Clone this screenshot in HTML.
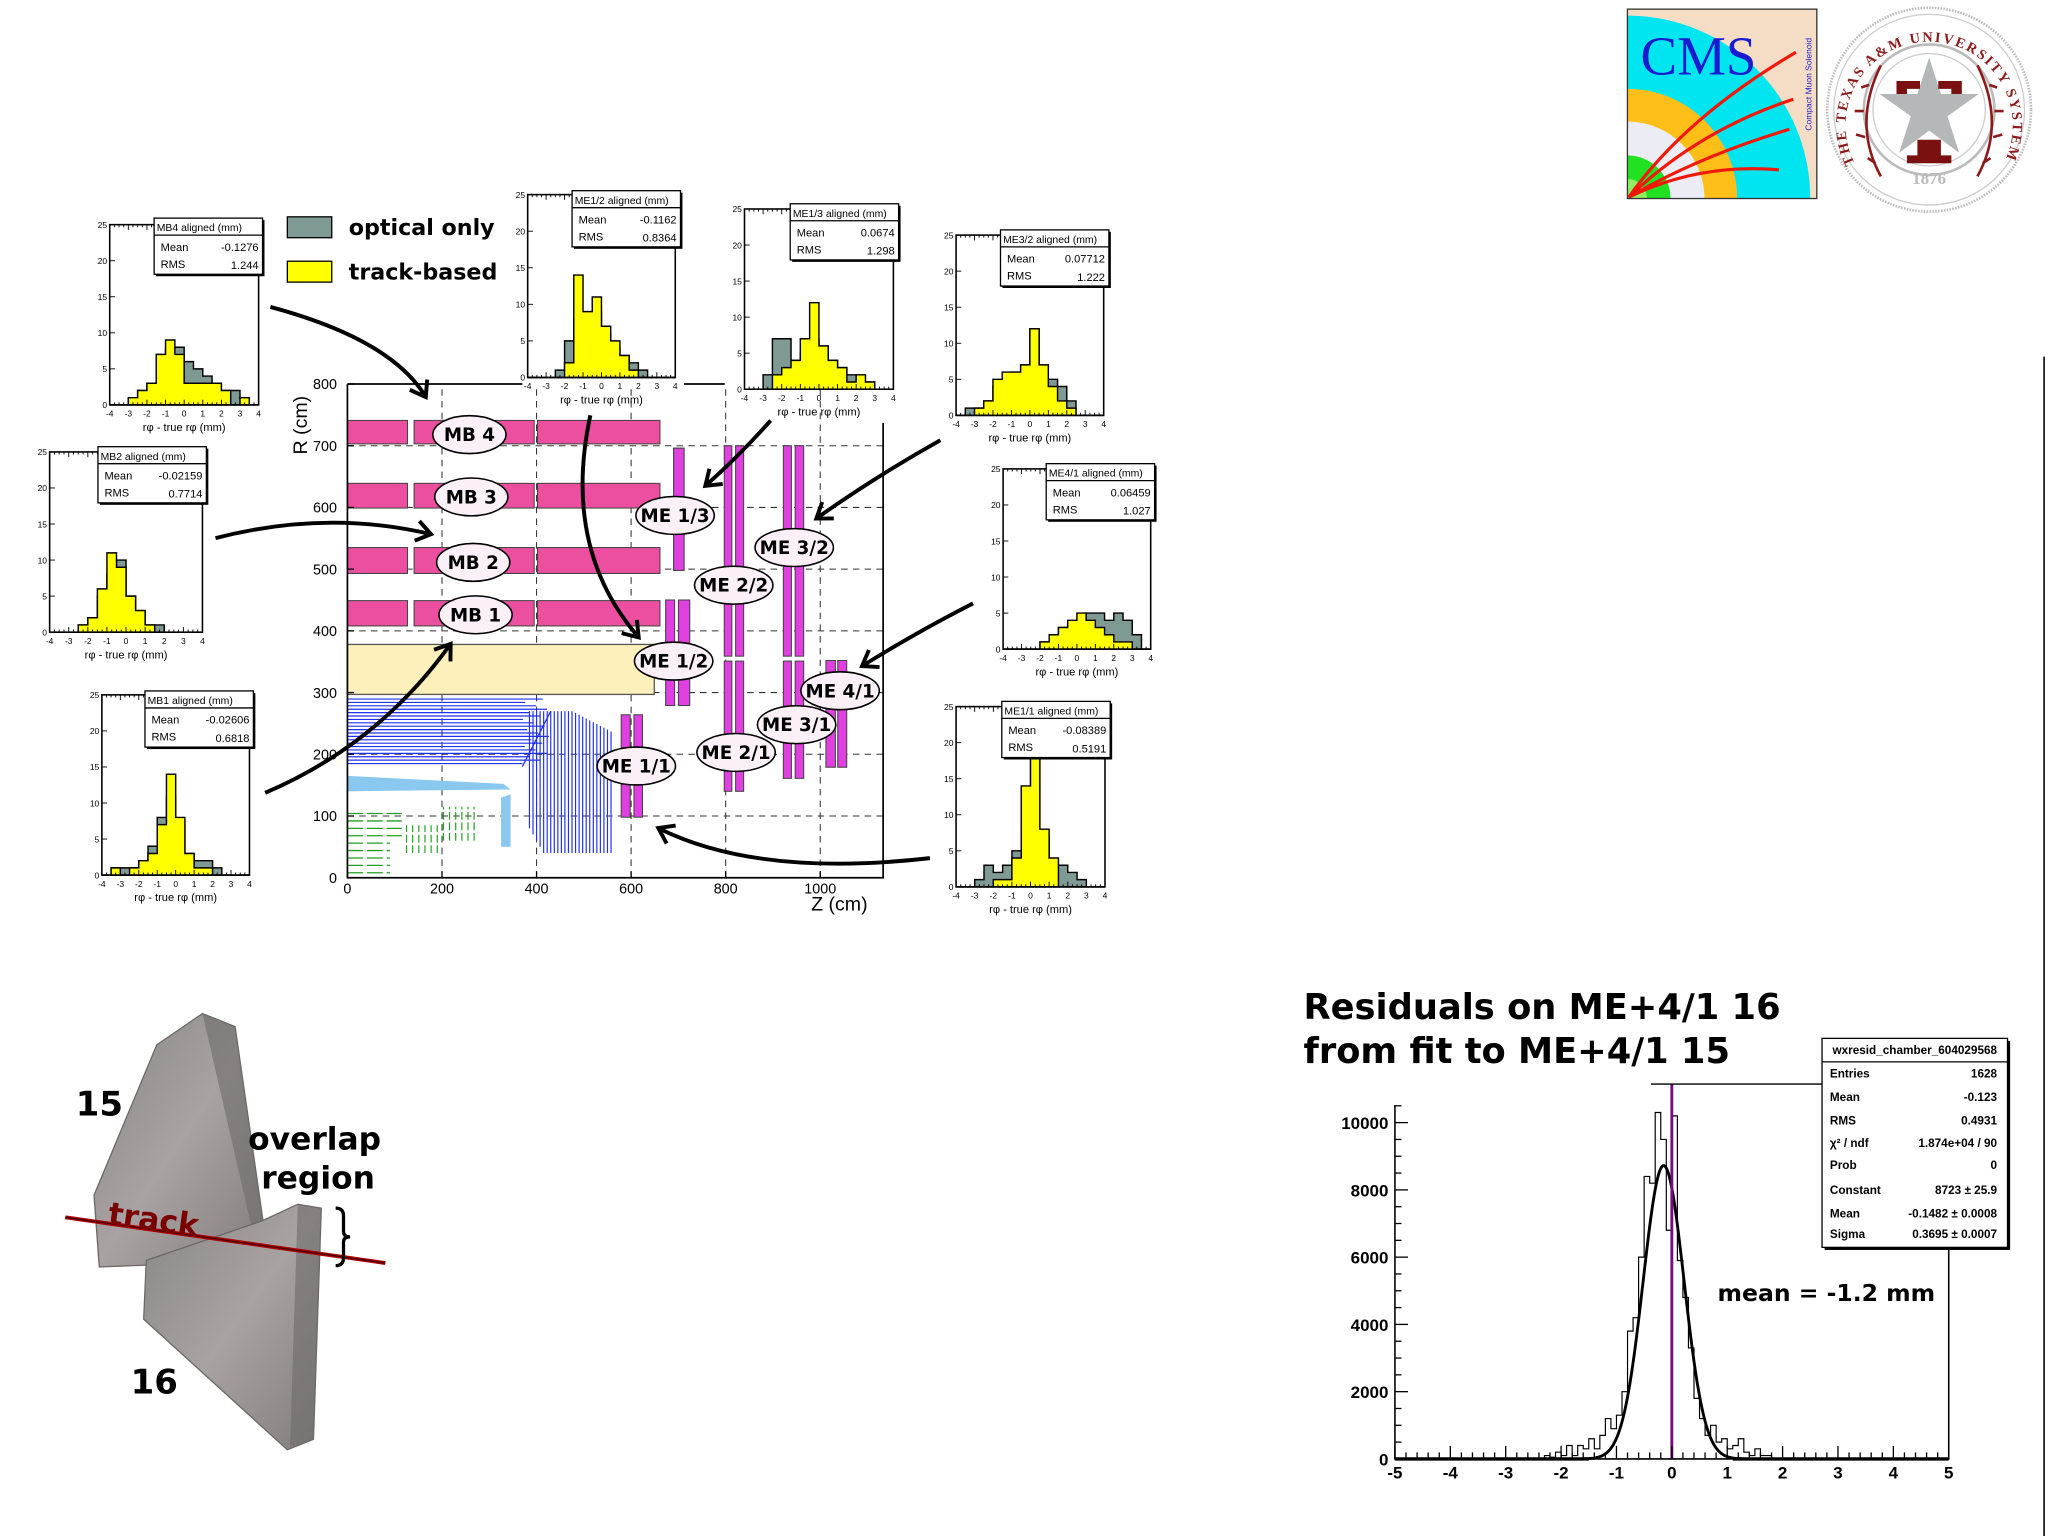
<!DOCTYPE html>
<html><head><meta charset="utf-8"><style>
html,body{margin:0;padding:0;background:#fff;}
svg{display:block;}
text{font-family:"Liberation Sans",sans-serif;}
.b{font-family:"DejaVu Sans","Liberation Sans",sans-serif;font-weight:bold;}
.serif{font-family:"Liberation Serif",serif;}
</style></head><body>
<svg id="root" xmlns="http://www.w3.org/2000/svg" width="2048" height="1536" viewBox="0 0 1568 1176">
<defs>
<linearGradient id="gch" x1="0" y1="0" x2="1" y2="1"><stop offset="0" stop-color="#8a8585"/><stop offset="0.5" stop-color="#a8a2a2"/><stop offset="1" stop-color="#827c7c"/></linearGradient>
</defs>
<g id="rz"></g>
<g id="hists"></g>
<g id="arrows"></g>
<g id="big"></g>

<g>
<rect x="220" y="166" width="34" height="16" fill="#7f9a94" stroke="#000"/>
<text x="267" y="180" font-size="17" class="b">optical only</text>
<rect x="220" y="200" width="34" height="16" fill="#ffff00" stroke="#000"/>
<text x="267" y="214" font-size="17" class="b">track-based</text>
</g>

<g>
<clipPath id="cmsclip"><rect x="1246" y="7" width="145" height="145"/></clipPath>
<g clip-path="url(#cmsclip)">
<rect x="1246" y="7" width="145" height="145" fill="#f5dcc4"/>
<circle cx="1246" cy="152" r="140" fill="#00e5f0"/>
<circle cx="1246" cy="152" r="84" fill="#ffbe18"/>
<circle cx="1246" cy="152" r="59" fill="#ececf4"/>
<circle cx="1246" cy="152" r="33" fill="#22e022"/>
<circle cx="1246" cy="152" r="15" fill="#90f060"/>
<g fill="none" stroke="#f01808" stroke-width="2.4">
<path d="M1247,151 Q1290,90 1375,40"/>
<path d="M1247,151 Q1300,100 1373,76"/>
<path d="M1247,151 Q1300,120 1370,99"/>
<path d="M1247,151 Q1300,125 1362,130"/>
</g>
</g>
<rect x="1246" y="7" width="145" height="145" fill="none" stroke="#333" stroke-width="1"/>
<text x="1256" y="57" font-size="42" fill="#1a1ad0" class="serif">CMS</text>
<text transform="translate(1387,100) rotate(-90)" font-size="6.5" fill="#1a1ad0">Compact Muon Solenoid</text>
</g>

<g>
<circle cx="1477" cy="84" r="78" fill="#fff" stroke="#bbb" stroke-width="2" stroke-dasharray="1.2 1"/>
<circle cx="1477" cy="84" r="73" fill="none" stroke="#ccc" stroke-width="1"/>
<circle cx="1477" cy="84" r="50" fill="none" stroke="#bbb" stroke-width="2"/>
<circle cx="1477" cy="84" r="43" fill="none" stroke="#ccc" stroke-width="1"/>
<path id="sealarc" d="M1420,125 A64,64 0 1,1 1534,125" fill="none"/>
<text font-size="11" fill="#8b1a1a" class="serif" font-weight="bold" letter-spacing="1.5"><textPath href="#sealarc">THE TEXAS A&amp;M UNIVERSITY SYSTEM</textPath></text>
<g fill="none" stroke="#8b1a1a" stroke-width="2">
<path d="M1440,135 Q1418,95 1440,50"/><path d="M1514,135 Q1536,95 1514,50"/>
<path d="M1436,125 l-6,-4 M1428,105 l-7,-2 M1427,85 l-7,0 M1431,65 l-6,2 M1518,125 l6,-4 M1526,105 l7,-2 M1527,85 l7,0 M1523,65 l6,2"/>
</g>
<polygon points="1477,44 1486,72 1515,72 1491,89 1500,117 1477,100 1454,117 1463,89 1439,72 1468,72" fill="#b4b8b8"/>
<path d="M1452,62 h18 v6 h-10 v4 h-8 z M1502,62 h-18 v6 h10 v4 h8 z M1468,107 h18 v12 h8 v6 h-34 v-6 h8 z" fill="#7a1010"/>
<text x="1477" y="141" font-size="13" fill="#bbb" text-anchor="middle" class="serif" font-weight="bold">1876</text>
</g>

<g>
<polygon points="120,800 155,776 180,786 205,960 178,966 76,970 72,915" fill="url(#gch)" stroke="#6d6868" stroke-width="1"/>
<polygon points="155,776 180,786 205,960 198,963" fill="#6f6a6a" opacity="0.6"/>
<polygon points="200,935 228,922 246,925 240,1102 220,1110 110,1010 112,965" fill="url(#gch)" stroke="#6d6868" stroke-width="1"/>
<polygon points="228,922 246,925 240,1102 222,1108" fill="#6f6a6a" opacity="0.6"/>
<line x1="50" y1="932" x2="295" y2="967" stroke="#b00000" stroke-width="3"/>
<line x1="50" y1="932" x2="295" y2="967" stroke="#400" stroke-width="1"/>
<text x="82" y="937" font-size="24" class="b" fill="#7a0000" transform="rotate(8,82,937)">track</text>
<text x="58" y="854" font-size="26" class="b">15</text>
<text x="100" y="1067" font-size="26" class="b">16</text>
<text x="190" y="880" font-size="24" class="b">overlap</text>
<text x="200" y="910" font-size="24" class="b">region</text>
<path d="M257,925 q6,0 6,6 v12 q0,4 5,4 q-5,0 -5,4 v12 q0,6 -6,6" fill="none" stroke="#000" stroke-width="2.5"/>
</g>
<line x1="1565" y1="273" x2="1565" y2="1176" stroke="#000" stroke-width="1.2"/>
</svg>
<script>
// ===== data: small residual histograms (bins of 0.5 mm from -4 to 4) =====
const hBinEdges = [-4,-3.5,-3,-2.5,-2,-1.5,-1,-0.5,0,0.5,1,1.5,2,2.5,3,3.5,4];
const hTickLabels = ["-4","-3","-2","-1","0","1","2","3","4"];
const hYTicks = [0,5,10,15,20,25];
const mb4Gray   = [0,0,1,2,3,7,8,8,6,5,4,3,2,2,1,0];
const mb4Yellow = [0,0,1,2,3,7,9,7,3,3,3,3,2,0,1,0];
const mb2Gray   = [0,0,0,1,2,5,8,10,5,3,1,1,0,0,0,0];
const mb2Yellow = [0,0,0,1,2,6,11,9,5,3,1,0,0,0,0,0];
const mb1Gray   = [0,1,1,1,2,4,8,11,7,3,2,2,1,0,0,0];
const mb1Yellow = [0,1,0,1,2,3,7,14,8,3,1,1,0,0,0,0];
const me12Gray   = [0,0,0,1,5,8,7,9,6,4,3,2,1,0,0,0];
const me12Yellow = [0,0,0,0,2,14,9,11,7,5,3,1,0,0,0,0];
const me13Gray   = [0,0,2,7,7,4,5,7,6,4,3,2,1,1,0,0];
const me13Yellow = [0,0,0,2,3,4,7,12,6,4,3,1,2,1,0,0];
const me32Gray   = [0,1,1,2,4,5,6,7,12,6,5,4,2,0,0,0];
const me32Yellow = [0,0,1,2,5,6,6,7,12,7,4,2,1,0,0,0];
const me41Gray   = [0,0,0,0,1,2,3,3,4,5,5,4,5,4,2,0];
const me41Yellow = [0,0,0,0,1,2,3,4,5,4,3,2,1,1,0,0];
const me11Gray   = [0,0,1,3,2,3,5,12,20,7,3,3,2,1,0,0];
const me11Yellow = [0,0,0,0,1,1,4,14,22,8,4,0,0,0,0,0];
const hTitles = ["MB4 aligned (mm)","MB2 aligned (mm)","MB1 aligned (mm)","ME1/2 aligned (mm)","ME1/3 aligned (mm)","ME3/2 aligned (mm)","ME4/1 aligned (mm)","ME1/1 aligned (mm)"];
const hMeans = ["-0.1276","-0.02159","-0.02606","-0.1162","0.0674","0.07712","0.06459","-0.08389"];
const hRms = ["1.244","0.7714","0.6818","0.8364","1.298","1.222","1.027","0.5191"];

// ===== data: big ME+4/1 residual histogram (bins of 0.1 mm) =====
const bigBinStart = [-2.3,-2.2,-2.1,-2.0,-1.9,-1.8,-1.7,-1.6,-1.5,-1.4,-1.3,-1.2,-1.1,-1.0,-0.9,-0.8,-0.7,-0.6,-0.5,-0.4,-0.3,-0.2,-0.1,0.0,0.1,0.2,0.3,0.4,0.5,0.6,0.7,0.8,0.9,1.0,1.1,1.2,1.3,1.4,1.5,1.6,1.7];
const bigCounts = [100,50,200,100,400,100,400,300,600,300,700,1200,900,1300,2000,3800,4200,6000,8400,8200,10300,9500,6800,10200,5900,4800,3300,1800,1200,700,1000,500,600,300,400,600,200,100,300,100,100];
const bigXTicks = [-5,-4,-3,-2,-1,0,1,2,3,4,5];
const bigYTicks = [0,2000,4000,6000,8000,10000];
const fitConstant = 8723, fitMean = -0.1482, fitSigma = 0.3695;
const statLabels = ["Entries","Mean","RMS","\u03C7\u00B2 / ndf","Prob","Constant","Mean","Sigma"];
const statValues = ["1628","-0.123","0.4931","1.874e+04 / 90","0","8723 \u00B1 25.9","-0.1482 \u00B1 0.0008","0.3695 \u00B1 0.0007"];

// ===== R-Z diagram data (z, r in cm) =====
const rzRTicks = [0,100,200,300,400,500,600,700,800];
const rzZTicks = [0,200,400,600,800,1000];
const mbNames = ["MB 4","MB 3","MB 2","MB 1"];
const mbRLow = [703,599,493,408];
const mbRHigh = [741,639,535,449];
const mbSegZ0 = [0,141,402];
const mbSegZ1 = [127,395,661];
const mbLabelZ = [258,262,266,271];
const mbLabelR = [718,617,511,426];
const meNames = ["ME 1/3","ME 1/2","ME 1/1","ME 2/2","ME 2/1","ME 3/2","ME 3/1","ME 4/1"];
const meZa0 = [690,673,579,797,797,922,922,1012];
const meZa1 = [712,692,598,813,813,939,939,1032];
const meZb0 = [690,700,606,821,821,947,947,1037];
const meZb1 = [712,724,624,838,838,965,965,1056];
const meR0 = [498,279,98,359,140,359,161,179];
const meR1 = [696,450,264,700,351,700,351,352];
const meLabelZ = [693,690,611,817,822,945,950,1042];
const meLabelR = [587,351,181,474,203,535,248,303];

const NS="http://www.w3.org/2000/svg";
function mk(parent, tag, attrs, txt){const e=document.createElementNS(NS,tag);for(const k in attrs)e.setAttribute(k,attrs[k]);if(txt!==undefined)e.textContent=txt;parent.appendChild(e);return e;}

// ---------- R-Z diagram ----------
(function(){
const g=document.getElementById('rz');
const X=z=>266+z*0.362, Y=r=>672-r*0.4725;
for(const z of [200,400,600,800,1000]){const l=mk(g,'line',{x1:X(z),y1:Y(0),x2:X(z),y2:Y(800),stroke:'#333','stroke-width':0.8,'stroke-dasharray':'5 4'});

}
for(const r of [100,200,300,400,500,600,700]){const l=mk(g,'line',{x1:X(0),y1:Y(r),x2:X(1133),y2:Y(r),stroke:'#333','stroke-width':0.8,'stroke-dasharray':'5 4'});

}
mk(g,'polygon',{points:`${X(0)},${Y(165)} ${X(330)},${Y(152)} ${X(345)},${Y(143)} ${X(0)},${Y(140)}`,fill:'#8ac8f0'});
mk(g,'polygon',{points:`${X(325)},${Y(130)} ${X(345)},${Y(135)} ${X(345)},${Y(50)} ${X(325)},${Y(50)}`,fill:'#8ac8f0'});
for(let i=0;i<20;i++){const r=185+i*5.5;const zl=370+((i*37)%60);mk(g,'line',{x1:X(0),y1:Y(r),x2:X(zl),y2:Y(r),stroke:'#2030f0','stroke-width':0.9});}
for(let i=0;i<24;i++){const z=385+i*7.5;const rt=270-(i>12?(i-12)*3:0);mk(g,'line',{x1:X(z),y1:Y(Math.max(40,40+ (i<4?(4-i)*10:0) )),x2:X(z),y2:Y(rt),stroke:'#2030f0','stroke-width':0.9});}
mk(g,'line',{x1:X(370),y1:Y(180),x2:X(430),y2:Y(270),stroke:'#2030f0','stroke-width':1});
for(let i=0;i<9;i++){const r=8+i*12;mk(g,'line',{x1:X(0),y1:Y(r),x2:X(i<5?90:115),y2:Y(r),stroke:'#20a020','stroke-width':1,'stroke-dasharray':'12 3'});}
for(let i=0;i<12;i++){const z=125+i*13;mk(g,'line',{x1:X(z),y1:Y(i<6?40:60),x2:X(z),y2:Y(i<6?85:115),stroke:'#20a020','stroke-width':0.9,'stroke-dasharray':'6 2'});}
const s=mk(g,'rect',{x:X(0),y:Y(378),width:X(649)-X(0),height:Y(297)-Y(378),fill:'#fdf0bb',stroke:'#555','stroke-width':1});


for(let i=0;i<mbNames.length;i++){for(let j=0;j<mbSegZ0.length;j++){const r=mk(g,'rect',{x:X(mbSegZ0[j]),y:Y(mbRHigh[i]),width:X(mbSegZ1[j])-X(mbSegZ0[j]),height:Y(mbRLow[i])-Y(mbRHigh[i]),fill:'#ec4fa0',stroke:'#444','stroke-width':0.8});

}}
for(let i=0;i<meNames.length;i++){for(const [a,b] of [[meZa0[i],meZa1[i]],[meZb0[i],meZb1[i]]]){const r=mk(g,'rect',{x:X(a),y:Y(meR1[i]),width:X(b)-X(a),height:Y(meR0[i])-Y(meR1[i]),fill:'#e040e0',stroke:'#444','stroke-width':0.8});

}}
function lab(z,r,t,rx){const e=mk(g,'ellipse',{cx:X(z),cy:Y(r),rx:rx,ry:14.5,fill:'#fcf0f8',stroke:'#000','stroke-width':1.2});


const t2=mk(g,'text',{x:X(z),y:Y(r)+5,'font-size':14,'text-anchor':'middle',class:'b'},t);

}
for(let i=0;i<mbNames.length;i++)lab(mbLabelZ[i],mbLabelR[i],mbNames[i],28);
for(let i=0;i<meNames.length;i++)lab(meLabelZ[i],meLabelR[i],meNames[i],30);
const fr=mk(g,'path',{d:`M${X(0)},${Y(800)} V${Y(0)} H${X(1133)} V${Y(737)} M${X(0)},${Y(800)} H${X(370)} M${X(712)},${Y(800)} H${X(798)}`,fill:'none',stroke:'#000','stroke-width':1.3});


for(const r of rzRTicks){mk(g,'line',{x1:X(0),y1:Y(r),x2:X(0)+5,y2:Y(r),stroke:'#000'});
const t=mk(g,'text',{x:258,y:Y(r)+4,'font-size':11,'text-anchor':'end'},String(r));

}
for(const z of rzZTicks){mk(g,'line',{x1:X(z),y1:Y(0),x2:X(z),y2:Y(0)-5,stroke:'#000'});
const t=mk(g,'text',{x:X(z),y:684,'font-size':11,'text-anchor':'middle'},String(z));

}
const ry=mk(g,'text',{x:0,y:0,'font-size':15,transform:'translate(235,348) rotate(-90)'},'R (cm)');


const zx=mk(g,'text',{x:621,y:697,'font-size':15},'Z (cm)');


})();

// ---------- small histograms ----------
const hLayout=[
 {x0:84,x1:198,yt:172,yb:310,sx:118,sy:167},
 {x0:38,x1:155,yt:346,yb:484,sx:75,sy:342},
 {x0:78,x1:191,yt:532,yb:670,sx:111,sy:529},
 {x0:404,x1:517,yt:149,yb:289,sx:438,sy:146},
 {x0:570,x1:684,yt:160,yb:298,sx:605,sy:156},
 {x0:732,x1:845,yt:180,yb:318,sx:766,sy:176},
 {x0:768,x1:881,yt:359,yb:497,sx:801,sy:355},
 {x0:732,x1:846,yt:541,yb:679,sx:767,sy:537}];
const hGray=[mb4Gray,mb2Gray,mb1Gray,me12Gray,me13Gray,me32Gray,me41Gray,me11Gray];
const hYellow=[mb4Yellow,mb2Yellow,mb1Yellow,me12Yellow,me13Yellow,me32Yellow,me41Yellow,me11Yellow];
(function(){
const root=document.getElementById('hists');
for(let k=0;k<hLayout.length;k++){
 const L=hLayout[k];
 const g=mk(root,'g',{});
 
 
 const X=v=>L.x0+(v+4)/8*(L.x1-L.x0), Y=c=>L.yb-c/25*(L.yb-L.yt);
 function step(arr,fill,name){let d=`M${X(hBinEdges[0])},${Y(0)}`;for(let i=0;i<arr.length;i++){d+=` V${Y(arr[i])} H${X(hBinEdges[i+1])}`;}d+=` V${Y(0)} Z`;
  const p=mk(g,'path',{d:d,fill:fill,stroke:'#000','stroke-width':1.1});
  
  }
 step(hGray[k],'#7f9a94','optical-only-series');
 step(hYellow[k],'#ffff00','track-based-series');
 const fr=mk(g,'rect',{x:L.x0,y:L.yt,width:L.x1-L.x0,height:L.yb-L.yt,fill:'none',stroke:'#000','stroke-width':1.2});
 
 
 for(let v=-4;v<=4;v+=0.25){const maj=Number.isInteger(v);mk(g,'line',{x1:X(v),y1:L.yb,x2:X(v),y2:L.yb-(maj?4:2),stroke:'#000','stroke-width':0.7});mk(g,'line',{x1:X(v),y1:L.yt,x2:X(v),y2:L.yt+(maj?4:2),stroke:'#000','stroke-width':0.7});}
 for(const c of hYTicks){mk(g,'line',{x1:L.x0,y1:Y(c),x2:L.x0+4,y2:Y(c),stroke:'#000','stroke-width':0.7});
  const t=mk(g,'text',{x:L.x0-2,y:Y(c)+2.5,'font-size':6.5,'text-anchor':'end'},String(c));
  
  }
 for(let i=0;i<hTickLabels.length;i++){const t=mk(g,'text',{x:X(-4+i),y:L.yb+9,'font-size':6.5,'text-anchor':'middle'},hTickLabels[i]);
  
  }
 const at=mk(g,'text',{x:(L.x0+L.x1)/2,y:L.yb+20,'font-size':8.5,'text-anchor':'middle'},'r\u03C6 - true r\u03C6 (mm)');
 
 
 const sb=mk(g,'g',{});
 
 
 mk(sb,'rect',{x:L.sx+1.5,y:L.sy+1.5,width:83,height:43,fill:'#000'});
 mk(sb,'rect',{x:L.sx,y:L.sy,width:83,height:43,fill:'#fff',stroke:'#000','stroke-width':1});
 mk(sb,'line',{x1:L.sx,y1:L.sy+13,x2:L.sx+83,y2:L.sy+13,stroke:'#000','stroke-width':1});
 mk(sb,'text',{x:L.sx+2,y:L.sy+10,'font-size':8},hTitles[k]);
 mk(sb,'text',{x:L.sx+5,y:L.sy+25,'font-size':8.5},'Mean');
 mk(sb,'text',{x:L.sx+80,y:L.sy+25,'font-size':8.5,'text-anchor':'end'},hMeans[k]);
 mk(sb,'text',{x:L.sx+5,y:L.sy+38,'font-size':8.5},'RMS');
 mk(sb,'text',{x:L.sx+80,y:L.sy+39,'font-size':8.5,'text-anchor':'end'},hRms[k]);
}
})();

// ---------- arrows ----------
(function(){
const g=document.getElementById('arrows');
const arr=[
 ["M207,235 Q300,260 326,304",326,304,"mb4"],
 ["M165,412 Q250,390 330,409",330,409,"mb2"],
 ["M203,607 Q290,570 345,493",345,493,"mb1"],
 ["M452,318 Q430,420 489,488",489,488,"me12"],
 ["M590,322 Q565,350 540,372",540,372,"me13"],
 ["M720,337 Q670,365 625,397",625,397,"me32"],
 ["M745,462 Q700,485 660,510",660,510,"me41"],
 ["M712,657 Q580,672 504,634",504,634,"me11"]];
for(const a of arr){
 const p=mk(g,'path',{d:a[0],fill:'none',stroke:'#000','stroke-width':3});
 
 
 const m=a[0].match(/Q([\d.]+),([\d.]+) ([\d.]+),([\d.]+)/);
 const dx=a[1]-(+m[1]), dy=a[2]-(+m[2]); const L=Math.hypot(dx,dy); const ux=dx/L, uy=dy/L;
 const s=11; const px=-uy, py=ux;
 mk(g,'path',{d:`M${a[1]-ux*s+px*s*0.7},${a[2]-uy*s+py*s*0.7} L${a[1]},${a[2]} L${a[1]-ux*s-px*s*0.7},${a[2]-uy*s-py*s*0.7}`,fill:'none',stroke:'#000','stroke-width':3,'stroke-linejoin':'miter'});
}
})();

// ---------- big histogram ----------
(function(){
const g=document.getElementById('big');
const X=v=>1068+(v+5)/10*424, Y=c=>1117-c*0.02575;
const t1=mk(g,'text',{x:998,y:780,'font-size':27,class:'b'},'Residuals on ME+4/1 16');


const t2=mk(g,'text',{x:998,y:814,'font-size':27,class:'b'},'from fit to ME+4/1 15');


let d=`M${X(-5)},${Y(0)} H${X(bigBinStart[0])}`;
for(let i=0;i<bigCounts.length;i++){d+=` V${Y(bigCounts[i])} H${X(bigBinStart[i]+0.1)}`;}
d+=` V${Y(0)} H${X(5)}`;
const h=mk(g,'path',{d:d,fill:'none',stroke:'#000','stroke-width':0.9});


let f='';for(let v=-1.6;v<=1.3;v+=0.02){const c=fitConstant*Math.exp(-0.5*Math.pow((v-fitMean)/fitSigma,2));f+=(f?' L':'M')+X(v).toFixed(2)+','+Y(c).toFixed(2);}
const fp=mk(g,'path',{d:f,fill:'none',stroke:'#000','stroke-width':2.2});


mk(g,'line',{x1:X(-5),y1:Y(0),x2:X(-1.5),y2:Y(0),stroke:'#000','stroke-width':2.5});
mk(g,'line',{x1:X(1.1),y1:Y(0),x2:X(5),y2:Y(0),stroke:'#000','stroke-width':2.5});
const zl=mk(g,'line',{x1:X(0),y1:830,x2:X(0),y2:Y(0),stroke:'#7a0a80','stroke-width':2.2});


mk(g,'line',{x1:1264,y1:830,x2:1395,y2:830,stroke:'#000','stroke-width':1});
const ax=mk(g,'path',{d:`M${X(-5)},846 V${Y(0)} H${X(5)} V955`,fill:'none',stroke:'#000','stroke-width':1.2});


for(let c=0;c<=10500;c+=500){const maj=c%2000===0;mk(g,'line',{x1:X(-5),y1:Y(c),x2:X(-5)+(maj?10:5),y2:Y(c),stroke:'#000','stroke-width':1});}
for(const c of bigYTicks){const t=mk(g,'text',{x:1063,y:Y(c)+5,'font-size':13,'font-weight':'bold','text-anchor':'end'},String(c));
 
 }
for(let v=-5;v<=5.001;v+=0.2){const maj=Math.abs(v-Math.round(v))<1e-6;mk(g,'line',{x1:X(v),y1:Y(0),x2:X(v),y2:Y(0)-(maj?10:5),stroke:'#000','stroke-width':1});}
for(const v of bigXTicks){const t=mk(g,'text',{x:X(v),y:1132,'font-size':13,'font-weight':'bold','text-anchor':'middle'},String(v));
 
 }
const mt=mk(g,'text',{x:1315,y:996,'font-size':18,class:'b'},'mean = -1.2 mm');


const sb=mk(g,'g',{});


mk(sb,'rect',{x:1397,y:797,width:142,height:160,fill:'#000'});
mk(sb,'rect',{x:1395,y:795,width:142,height:160,fill:'#fff',stroke:'#000','stroke-width':1});
mk(sb,'line',{x1:1395,y1:813,x2:1537,y2:813,stroke:'#000'});
mk(sb,'text',{x:1466,y:807,'font-size':9,'font-weight':'bold','text-anchor':'middle'},'wxresid_chamber_604029568');
const rows=[825,843,861,878,895,914,932,948];
for(let i=0;i<statLabels.length;i++){mk(sb,'text',{x:1401,y:rows[i],'font-size':9,'font-weight':'bold'},statLabels[i]);mk(sb,'text',{x:1529,y:rows[i],'font-size':9,'font-weight':'bold','text-anchor':'end'},statValues[i]);}
})();
</script>
</body></html>
